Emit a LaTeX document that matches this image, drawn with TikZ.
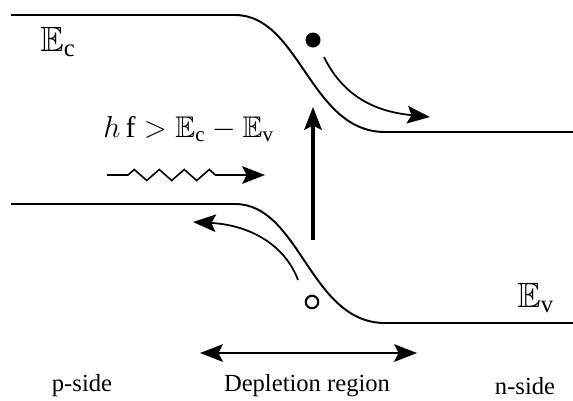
\documentclass[tikz,border=0pt]{standalone}
\usepackage{fontspec}
\setmainfont{Liberation Serif}
\usepackage{amssymb}
\usetikzlibrary{arrows.meta,decorations.pathmorphing}
\tikzset{
	head/.tip = {Stealth[length=13pt,width=10pt,inset=2.5pt]},
	band/.style = {line width=1.1pt},
	carrier/.style = {line width=1pt, -{head}},
	label/.style = {font=\fontsize{14}{16}\selectfont, inner sep=0pt},
	level/.style = {font=\fontsize{20}{24}\selectfont, inner sep=0pt},
}
\begin{document}
\begin{tikzpicture}[x=0.02cm, y=-0.02cm]
	\useasboundingbox (0,0) rectangle (573,400);
	% conduction band
	\coordinate (cl) at (11,15);
	\coordinate (cb) at (235,15);
	\coordinate (ce) at (385,132);
	\coordinate (cr) at (573,132);
	\draw [band] (cl) -- (cb) .. controls (300,15) and (310,132) .. (ce) -- (cr);
	% valence band
	\coordinate (vl) at (11,204);
	\coordinate (vb) at (235,204);
	\coordinate (ve) at (385,323);
	\coordinate (vr) at (573,323);
	\draw [band] (vl) -- (vb) .. controls (300,204) and (310,323) .. (ve) -- (vr);
	%\draw [dashed] (235,0) -- (235,340);
	\node [level, anchor=west] (Ec) at (40,42) {$\mathbb{E}_{\mathrm{c}}$};
	\node [level, anchor=west] (Ev) at (517,298) {$\mathbb{E}_{\mathrm{v}}$};
	\node [font=\fontsize{17}{20}\selectfont, inner sep=0pt, anchor=base west] (hf) at (103,137)
		{$h\,\mathrm{f} > \mathbb{E}_{\mathrm{c}} - \mathbb{E}_{\mathrm{v}}$};
	% photon
	\coordinate (ps) at (107,175);
	\coordinate (pe) at (265,175);
	\draw [line width=0.9pt, -{head},
		decorate, decoration={zigzag, amplitude=0.11cm, segment length=0.5cm, pre length=0.42cm, post length=0.9cm}]
		(ps) -- (pe);
	% electron and hole
	\node [circle, fill, inner sep=0pt, minimum size=0.3cm] (el) at (313,40) {};
	\node [circle, draw, line width=1.2pt, inner sep=0pt, minimum size=0.25cm] (ho) at (312,302) {};
	\coordinate (es) at (324,57);
	\coordinate (ee) at (430,117);
	\draw [carrier] (es) .. controls (345,100) and (380,112) .. (ee);
	\coordinate (hs) at (298,280);
	\coordinate (he) at (193,222);
	\draw [carrier] (hs) .. controls (285,245) and (250,225) .. (he);
	% excitation
	\coordinate (xs) at (313,240);
	\coordinate (xe) at (313,107);
	\draw [line width=1.8pt, -{head}] (xs) -- (xe);
	% depletion region
	\coordinate (dl) at (200,353);
	\coordinate (dr) at (417,353);
	\draw [line width=1pt, {head}-{head}] (dl) -- (dr);
	\node [label] (pside) at (82,386) {p-side};
	\node [label] (dp) at (307,386) {Depletion region};
	\node [label] (ns) at (525,386) {n-side};
\end{tikzpicture}
\end{document}
